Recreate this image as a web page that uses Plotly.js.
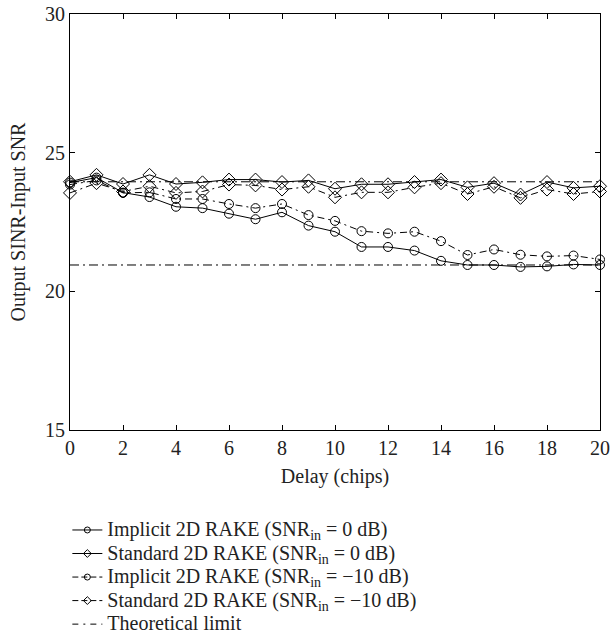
<!DOCTYPE html>
<html>
<head>
<meta charset="utf-8">
<script src="https://cdn.plot.ly/plotly-3.0.1.min.js"></script>
<style>html,body{margin:0;padding:0;background:#fff;}#chart{width:610px;height:639px;}</style>
</head>
<body>
<div id="chart"></div>
<script>
const delays = [0,1,2,3,4,5,6,7,8,9,10,11,12,13,14,15,16,17,18,19,20];
const implicit0 = [23.92,24.1,23.56,23.4,23.05,23.0,22.8,22.6,22.85,22.37,22.15,21.6,21.6,21.47,21.1,20.95,20.95,20.88,20.9,20.97,20.95];
const standard0 = [23.95,24.2,23.87,24.2,23.87,23.93,24.03,24.03,23.94,24.0,23.7,23.86,23.86,23.94,24.03,23.75,23.9,23.49,23.94,23.73,23.79];
const implicitM10 = [23.85,24.0,23.55,23.57,23.33,23.33,23.15,23.0,23.15,22.75,22.54,22.17,22.09,22.15,21.81,21.31,21.51,21.32,21.26,21.29,21.15];
const standardM10 = [23.55,23.9,23.6,23.79,23.55,23.6,23.85,23.82,23.67,23.77,23.39,23.57,23.57,23.75,23.9,23.51,23.77,23.37,23.67,23.51,23.6];
const theoryLevels = [23.95, 20.95];
const seriesNames = [
  'Implicit 2D RAKE (SNR<sub>in</sub> = 0 dB)',
  'Standard 2D RAKE (SNR<sub>in</sub> = 0 dB)',
  'Implicit 2D RAKE (SNR<sub>in</sub> = \u221210 dB)',
  'Standard 2D RAKE (SNR<sub>in</sub> = \u221210 dB)',
  'Theoretical limit'
];

const xFirst = delays[0], xLast = delays[delays.length-1];
const thX = [], thY = [];
theoryLevels.forEach((lv, i) => {
  if (i > 0) { thX.push(null); thY.push(null); }
  thX.push(xFirst, xLast); thY.push(lv, lv);
});

const dashDot = '7px,4px,2px,4px';
const theoryDash = '9px,4px,2px,4px';
const specs = [
  {y: implicit0, symbol: 'circle-open', dash: 'solid'},
  {y: standard0, symbol: 'diamond-open', dash: 'solid'},
  {y: implicitM10, symbol: 'circle-open', dash: dashDot},
  {y: standardM10, symbol: 'diamond-open', dash: dashDot}
];
const big = s => '<span style="font-size:20px">' + s + '</span>';
const traces = [];
specs.forEach((s, i) => {
  traces.push({
    x: delays, y: s.y, name: seriesNames[i], type: 'scatter', mode: 'lines+markers',
    showlegend: false, cliponaxis: false,
    line: {color: '#000', width: 1, dash: s.dash},
    marker: {symbol: s.symbol, size: s.symbol === 'diamond-open' ? 10 : 9, color: '#000', line: {color: '#000', width: 1}}
  });
});
traces.push({x: thX, y: thY, name: seriesNames[4], type: 'scatter', mode: 'lines', showlegend: false,
   line: {color: '#000', width: 1, dash: theoryDash}});
// legend entries with smaller symbols, as in the reference key
specs.forEach((s, i) => {
  traces.push({
    x: [null], y: [null], name: big(seriesNames[i]), type: 'scatter', mode: 'lines+markers',
    line: {color: '#000', width: 1, dash: s.dash === 'solid' ? 'solid' : '6px,3px'},
    marker: {symbol: s.symbol, size: 6, color: '#000', line: {color: '#000', width: 1}}
  });
});
traces.push({x: [null], y: [null], name: big(seriesNames[4]), type: 'scatter', mode: 'lines',
   line: {color: '#000', width: 1, dash: '6px,5px,2px,5px'}});

const fam = '"Liberation Serif", "Times New Roman", serif';
const txt = '#222';
const layout = {
  width: 610, height: 639,
  margin: {l: 70, r: 10, t: 14, b: 209, autoexpand: false},
  paper_bgcolor: '#fff', plot_bgcolor: '#fff',
  font: {family: fam, color: txt, size: 20},
  showlegend: true,
  legend: {x: -0.005, y: -0.2, xanchor: 'left', yanchor: 'top', orientation: 'v',
    font: {family: fam, size: 15.8, color: txt}, tracegroupgap: 0, itemwidth: 30,
    bgcolor: 'rgba(0,0,0,0)'},
  xaxis: {range: [0, 20], dtick: 2, tick0: 0, showgrid: false, zeroline: false,
    showline: true, linecolor: '#000', linewidth: 1, mirror: 'ticks',
    ticks: 'inside', ticklen: 5, tickcolor: '#000',
    tickfont: {family: fam, size: 20, color: txt},
    title: {text: 'Delay (chips)', font: {family: fam, size: 20, color: txt}, standoff: 10}},
  yaxis: {range: [15, 30], dtick: 5, tick0: 15, showgrid: false, zeroline: false,
    showline: true, linecolor: '#000', linewidth: 1, mirror: 'ticks',
    ticks: 'inside', ticklen: 5, tickcolor: '#000',
    tickfont: {family: fam, size: 20, color: txt},
    title: {text: 'Output SINR-Input SNR', font: {family: fam, size: 20, color: txt}, standoff: 14}}
};
Plotly.newPlot('chart', traces, layout, {displayModeBar: false, staticPlot: true});
</script>
</body>
</html>
